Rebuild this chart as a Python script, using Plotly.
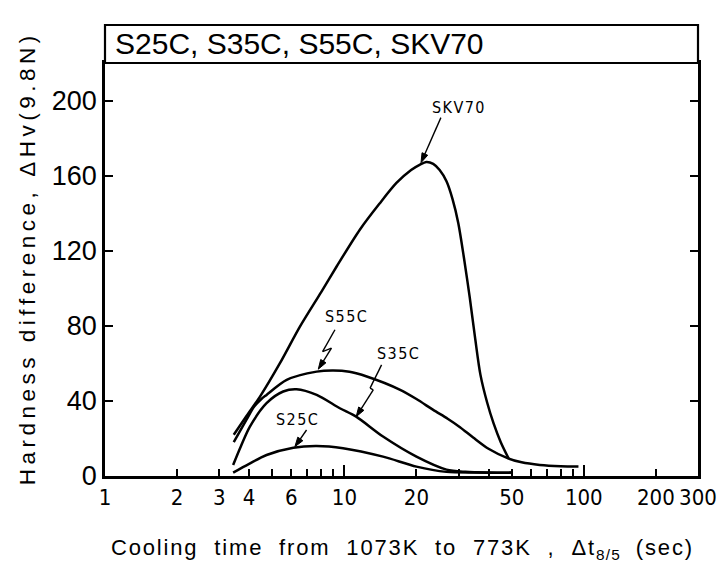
import math
import plotly.graph_objects as go

# ---------------- data ----------------
skv70_x = [3.45, 3.9, 4.44, 5.38, 6.52, 8.0, 9.28, 11.6, 14.0, 16.5, 19.0, 20.7, 22.0, 23.5, 25.0, 26.7, 28.3, 29.9, 31.6, 33.4, 35.2, 37.0, 39.5, 42.0, 45.0, 48.6]
skv70_y = [22, 32, 42.3, 60.1, 79.6, 98, 111.6, 131.2, 145, 156.1, 163, 165.9, 167.3, 166.3, 163.0, 157.0, 147.5, 134.8, 116.0, 95.0, 73.0, 54.0, 39.0, 28.0, 18.0, 9.2]

s55c_x = [3.45, 3.9, 4.2, 4.5, 4.73, 5.74, 7.66, 8.98, 10.5, 12.4, 17.1, 20.0, 23.5, 27.0, 30.4, 34.5, 40.0, 48.3, 55, 65.5, 80, 95]
s55c_y = [18, 30, 37, 41, 43.2, 51.2, 55.6, 56.2, 55.5, 53.0, 45.9, 41.0, 35.2, 30.5, 26.0, 20.5, 14.5, 9.4, 7.3, 5.9, 5.2, 5.0]

s35c_x = [3.43, 3.7, 4.03, 4.73, 5.55, 6.31, 7.66, 9.57, 11.2, 14.5, 20.0, 26.7, 32, 40, 50]
s35c_y = [5.9, 16, 26.3, 38.8, 45.0, 46.2, 43.2, 36.1, 31.6, 21.0, 10.3, 3.4, 2.2, 1.8, 1.8]

s25c_x = [3.43, 4.0, 4.73, 6.12, 7.66, 9.87, 14.5, 20.0, 26.7, 35, 50]
s25c_y = [1.8, 6.5, 11.2, 15.1, 16.0, 14.8, 10.3, 5.0, 2.2, 1.8, 1.8]

series_names = ["SKV70", "S55C", "S35C", "S25C"]

x_tick_vals = [1, 2, 3, 4, 6, 10, 20, 50, 100, 200, 300]
x_tick_text = ["1", "2", "3", "4", "6", "10", "20", "50", "100", "200", "300"]
x_minor_vals = [5, 7, 8, 9, 30, 40, 60, 70, 80, 90]
x_long_vals = [10, 100]
y_tick_vals = [0, 40, 80, 120, 160, 200]

# label positions (data coords) and leader lines (last point = arrow tip)
label_pos = {"SKV70": (29.8, 196.3), "S55C": (10.2, 85.0), "S35C": (16.8, 65.4), "S25C": (6.32, 29.9)}
leader_x = {"SKV70": [25.3, 20.9], "S55C": [9.13, 8.11, 8.83, 7.78],
            "S35C": [14.3, 12.8, 13.2, 11.2], "S25C": [6.95, 6.21]}
leader_y = {"SKV70": [190.9, 166.9], "S55C": [77.9, 66.3, 68.1, 56.9],
            "S35C": [59.2, 46.8, 45.9, 31.6], "S25C": [24.5, 15.6]}

title_text = "S25C, S35C, S55C, SKV70"
y_title = "Hardness difference, \u0394Hv(9.8N)"
x_title_main = "Cooling  time  from  1073K  to  773K  ,  \u0394t"
x_title_sub = "8/5"
x_title_end = "  (sec)"

FONT = "Liberation Sans, Arial, sans-serif"
NARROW = "Liberation Sans Narrow, DejaVu Sans Condensed, Liberation Sans, Arial, sans-serif"
HAIR = "\u200a"
THIN = "\u2009"


def spaced(s, sep=THIN):
    return sep.join(list(s))


x_title_html = (spaced(x_title_main, HAIR) + HAIR + "<sub>" + spaced(x_title_sub, HAIR)
                + "</sub>" + spaced(x_title_end, HAIR))

fig = go.Figure()
for name, xs, ys in [("SKV70", skv70_x, skv70_y), ("S55C", s55c_x, s55c_y),
                     ("S35C", s35c_x, s35c_y), ("S25C", s25c_x, s25c_y)]:
    fig.add_trace(go.Scatter(x=xs, y=ys, mode="lines", name=name,
                             line=dict(color="black", width=2.5, shape="spline", smoothing=0.8),
                             hoverinfo="skip", showlegend=False))

# leader lines with arrowheads (marker at the tip, oriented along the last segment)
for name in series_names:
    lx, ly = leader_x[name], leader_y[name]
    sizes = [0] * (len(lx) - 1) + [10]
    fig.add_trace(go.Scatter(x=lx, y=ly, mode="lines+markers",
                             line=dict(color="black", width=1.4),
                             marker=dict(symbol="arrow", size=sizes, angleref="previous",
                                         color="black", opacity=1,
                                         line=dict(width=1, color="black")),
                             hoverinfo="skip", showlegend=False))

# invisible trace on overlay axis for the long decade ticks
fig.add_trace(go.Scatter(x=x_long_vals, y=[None, None], xaxis="x2", mode="lines",
                         showlegend=False, hoverinfo="skip"))

for name in series_names:
    lx, ly = label_pos[name]
    fig.add_annotation(x=math.log10(lx), y=ly, text=spaced(name, HAIR), showarrow=False,
                       font=dict(family=NARROW, size=16, color="black"))

# title box
fig.add_shape(type="rect", xref="paper", yref="paper", x0=0, x1=1, y0=1, y1=1 + 38 / 413,
              line=dict(color="black", width=2.2), fillcolor="white")
fig.add_annotation(xref="paper", yref="paper", x=0.014, y=1 + 19 / 413, xanchor="left",
                   yanchor="middle", text=title_text, showarrow=False,
                   font=dict(family=FONT, size=30, color="black"))

# y title
fig.add_annotation(xref="paper", yref="paper", x=-0.131, y=0.523, textangle=-90,
                   text=spaced(y_title), showarrow=False, xanchor="center", yanchor="middle",
                   font=dict(family=FONT, size=22.5, color="black"))

xr = [0, math.log10(300)]
fig.update_layout(
    width=726, height=563,
    margin=dict(l=105, r=28, t=63, b=87),
    paper_bgcolor="white", plot_bgcolor="white",
    xaxis=dict(type="log", range=xr, tickmode="array", tickvals=x_tick_vals, ticktext=x_tick_text,
               ticks="inside", ticklen=7, tickwidth=1.5, tickcolor="black", tickangle=0,
               showline=True, linewidth=2.5, linecolor="black", mirror=True,
               showgrid=False, zeroline=False, automargin=False,
               tickfont=dict(family=NARROW, size=22, color="black"),
               minor=dict(tickmode="array", tickvals=x_minor_vals, ticks="inside", ticklen=7,
                          tickwidth=1.5, tickcolor="black", showgrid=False),
               title=dict(text=x_title_html, standoff=32, font=dict(family=FONT, size=22, color="black"))),
    xaxis2=dict(type="log", range=xr, overlaying="x", anchor="y", side="bottom",
                tickmode="array", tickvals=x_long_vals, ticks="inside", ticklen=11,
                tickwidth=1.5, tickcolor="black", showticklabels=False, showgrid=False,
                zeroline=False, showline=False, automargin=False),
    yaxis=dict(range=[0, 220], tickmode="array", tickvals=y_tick_vals,
               ticks="inside", ticklen=8, tickwidth=1.5, tickcolor="black",
               showline=True, linewidth=2.5, linecolor="black", mirror="ticks",
               showgrid=False, zeroline=False, automargin=False,
               tickfont=dict(family=FONT, size=27, color="black")),
)

fig.write_html("out.html")
